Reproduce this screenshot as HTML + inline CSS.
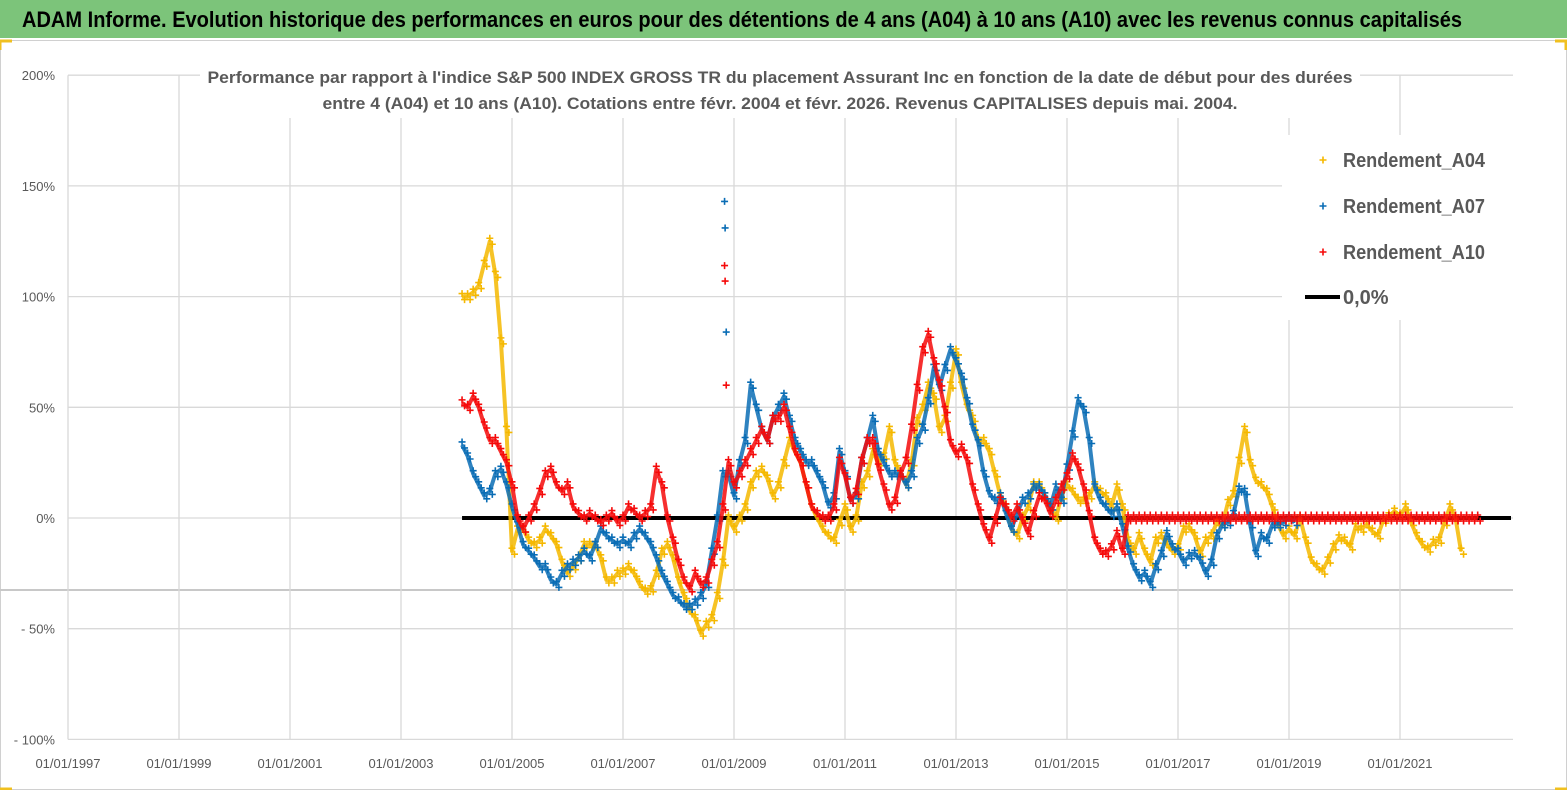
<!DOCTYPE html>
<html><head><meta charset="utf-8"><style>
html,body{margin:0;padding:0;background:#fff;}
svg{display:block;font-family:"Liberation Sans",sans-serif;}
</style></head><body>
<svg id="chart" width="1567" height="790" viewBox="0 0 1567 790">
<rect x="0" y="0" width="1567" height="38" fill="#7cc47a"/>
<text x="742" y="27" text-anchor="middle" font-size="22" font-weight="bold" fill="#000" textLength="1440" lengthAdjust="spacingAndGlyphs">ADAM Informe. Evolution historique des performances en euros pour des détentions de 4 ans (A04) à 10 ans (A10) avec les revenus connus capitalisés</text>
<rect x="0.5" y="40.5" width="1566" height="749" fill="none" stroke="#d0d0d0"/>
<path d="M0 41 H12 M0 41 V50 M1555 41 H1567 M1566 41 V50 M0 789 H12 M1555 789 H1567" stroke="#f0c020" stroke-width="3" fill="none"/>
<g id="grid"></g>
<rect x="200" y="62" width="1160" height="56" fill="#fff"/>
<text x="780" y="83" text-anchor="middle" font-size="17" font-weight="bold" fill="#595959" textLength="1145" lengthAdjust="spacingAndGlyphs">Performance par rapport à l'indice S&amp;P 500 INDEX GROSS TR  du placement Assurant Inc en fonction de la date de début pour des durées</text>
<text x="780" y="109" text-anchor="middle" font-size="17" font-weight="bold" fill="#595959" textLength="915" lengthAdjust="spacingAndGlyphs">entre 4 (A04) et 10 ans (A10). Cotations entre févr. 2004 et févr. 2026. Revenus CAPITALISES depuis mai. 2004.</text>
<g id="axes"></g>
<g id="series"></g>
<g id="legend"></g>
</svg>
<script>
const yTicks = [200,150,100,50,0,-50,-100];
const yTickLabels = ["200%","150%","100%","50%","0%","- 50%","- 100%"];
const xTickYears = [1997,1999,2001,2003,2005,2007,2009,2011,2013,2015,2017,2019,2021];
const xTickLabels = ["01/01/1997","01/01/1999","01/01/2001","01/01/2003","01/01/2005","01/01/2007","01/01/2009","01/01/2011","01/01/2013","01/01/2015","01/01/2017","01/01/2019","01/01/2021"];
const seriesStart = 2004.1;
const seriesStep = 0.1;
const a04 = [100,100,102,105,115,125,110,80,40,-15,-5,-5,-10,-12,-10,-5,-8,-12,-20,-25,-22,-18,-12,-12,-12,-18,-28,-28,-25,-24,-22,-25,-30,-33,-32,-25,-15,-12,-18,-28,-35,-42,-45,-52,-48,-45,-35,-20,0,-5,0,5,15,20,22,18,10,15,25,35,30,25,15,5,0,-5,-8,-10,-2,5,-5,0,15,20,30,25,28,40,25,20,15,25,44,50,60,55,40,45,60,75,60,50,45,35,35,30,20,10,5,-5,-8,0,5,15,15,10,5,0,10,15,12,8,8,10,15,12,10,5,14,5,-10,-15,-8,-15,-20,-10,-8,-12,-15,-13,-5,-4,-8,-16,-10,-8,-2,-3,7,11,26,40,25,17,15,12,5,-3,-8,-5,-8,0,-10,-19,-22,-24,-19,-13,-9,-10,-13,-4,-5,-3,-6,-8,-1,1,3,1,5,-2,-8,-12,-14,-11,-10,-2,5,0,-15];
const a07 = [33,28,20,15,10,12,20,22,15,5,-3,-12,-15,-18,-22,-22,-28,-30,-25,-22,-20,-18,-15,-18,-12,-5,-8,-10,-12,-10,-12,-8,-5,-8,-12,-18,-25,-30,-35,-37,-40,-40,-38,-35,-30,-15,0,20,20,10,25,35,60,50,40,35,45,50,55,45,35,30,25,25,20,15,6,10,30,20,8,10,26,35,45,30,25,20,20,20,15,20,35,41,53,68,59,68,76,71,64,53,41,34,20,11,8,10,2,-5,2,8,10,14,14,10,5,14,8,23,38,53,49,35,14,8,5,2,5,-4,-14,-22,-27,-25,-30,-22,-16,-7,-13,-15,-20,-17,-16,-19,-25,-20,-8,-3,-2,2,13,12,-3,-16,-8,-10,-3,-3,-2,0,-2];
const a10 = [52,50,55,50,42,35,35,30,25,15,0,-5,0,5,12,20,22,15,12,15,5,2,0,2,0,-2,0,2,-2,0,5,3,0,2,5,22,15,0,-10,-20,-28,-32,-25,-30,-28,-20,-12,5,25,15,20,25,30,35,40,35,45,45,50,40,30,25,15,5,2,0,0,5,26,19,8,12,26,35,35,23,14,5,8,20,26,41,59,76,83,71,61,49,34,29,32,26,14,5,-4,-10,-1,8,5,0,5,-1,-7,2,10,8,2,8,14,19,28,23,14,2,-10,-15,-16,-13,-7,-15,0,0,0,0,0,0,0,0,0,0,0,0,0,0,0,0,0,0,0,0,0,0,0,0,0,0,0,0,0,0,0,0,0,0,0,0,0,0,0,0,0,0,0,0,0,0,0,0,0,0,0,0,0,0,0,0,0,0,0,0,0,0,0,0];
const spikeDates = [2008.83,2008.84,2008.86];
const spikeA07 = [143,131,84];
const spikeA10 = [114,107,60];
const zeroLineStart = 2004.1, zeroLineEnd = 2023.0;
const legendLabels = ["Rendement_A04","Rendement_A07","Rendement_A10","0,0%"];
const colors = ["#f5b800","#0a6db5","#f50a0a"];

const NS="http://www.w3.org/2000/svg";
const X0=68, PXY=55.5, Y0=518, PXP=2.214, PLOTR=1513;
function xs(y){return X0+(y-1997)*PXY;}
function ys(v){return Y0-v*PXP;}
function mk(tag,attrs,parent){const e=document.createElementNS(NS,tag);for(const k in attrs)e.setAttribute(k,attrs[k]);parent.appendChild(e);return e;}
const grid=document.getElementById('grid'), axes=document.getElementById('axes'), ser=document.getElementById('series'), leg=document.getElementById('legend');

yTicks.forEach((t,i)=>{
  const l=mk('line',{x1:X0,x2:PLOTR,y1:ys(t),y2:ys(t),stroke:'#d9d9d9','stroke-width':1.3},grid);
  
  
  const tx=mk('text',{x:55,y:ys(t)+5,'text-anchor':'end','font-size':13,fill:'#595959'},axes);
  tx.textContent=yTickLabels[i];
  
  
});
const extra=mk('line',{x1:0,x2:PLOTR,y1:590,y2:590,stroke:'#c8c8c8','stroke-width':2},grid);


xTickYears.forEach((yr,i)=>{
  const l=mk('line',{x1:xs(yr),x2:xs(yr),y1:ys(200),y2:ys(-100),stroke:'#d9d9d9','stroke-width':1.3},grid);
  
  
  const tx=mk('text',{x:xs(yr),y:768,'text-anchor':'middle','font-size':13,fill:'#595959'},axes);
  tx.textContent=xTickLabels[i];
  
  
});

const zl=mk('line',{x1:xs(zeroLineStart),x2:xs(zeroLineEnd),y1:ys(0),y2:ys(0),stroke:'#000','stroke-width':4},ser);



function plus(g,x,y,c){
  mk('path',{d:`M${x-3.5} ${y}H${x+3.5}M${x} ${y-3.5}V${y+3.5}`,stroke:c,'stroke-width':1.6},g);
}
function drawSeries(vals,color,name,sd,sv){
  const g=mk('g',{},ser);
  
  
  const pts=vals.map((v,i)=>[xs(seriesStart+i*seriesStep),ys(v)]);
  mk('polyline',{points:pts.map(p=>p.join(',')).join(' '),fill:'none',stroke:color,'stroke-width':4,'stroke-linejoin':'round','opacity':0.85},g);
  pts.forEach(p=>{plus(g,p[0],p[1]-3,color);plus(g,p[0]+2.5,p[1]+3,color);});
  if(sd){sd.forEach((d,i)=>plus(g,xs(d),ys(sv[i]),color));}
}
drawSeries(a04,colors[0],'series-a04');
drawSeries(a07,colors[1],'series-a07',spikeDates,spikeA07);
drawSeries(a10,colors[2],'series-a10',spikeDates,spikeA10);

const lb=mk('rect',{x:1282,y:135,width:232,height:185,fill:'#fff'},leg);


const ly=[160,206,252,297];
legendLabels.forEach((lab,i)=>{
  const g=mk('g',{},leg);
  
  
  if(i<3){plus(g,1323,ly[i],colors[i]);}
  else{mk('line',{x1:1305,x2:1340,y1:ly[i],y2:ly[i],stroke:'#000','stroke-width':4},g);}
  const t=mk('text',{x:1343,y:ly[i]+7,'font-size':20,'font-weight':'bold',fill:'#595959'},g);
  t.textContent=lab;
  if(i<3) t.setAttribute('textLength','142');
  t.setAttribute('lengthAdjust','spacingAndGlyphs');
});
</script>
</body></html>
